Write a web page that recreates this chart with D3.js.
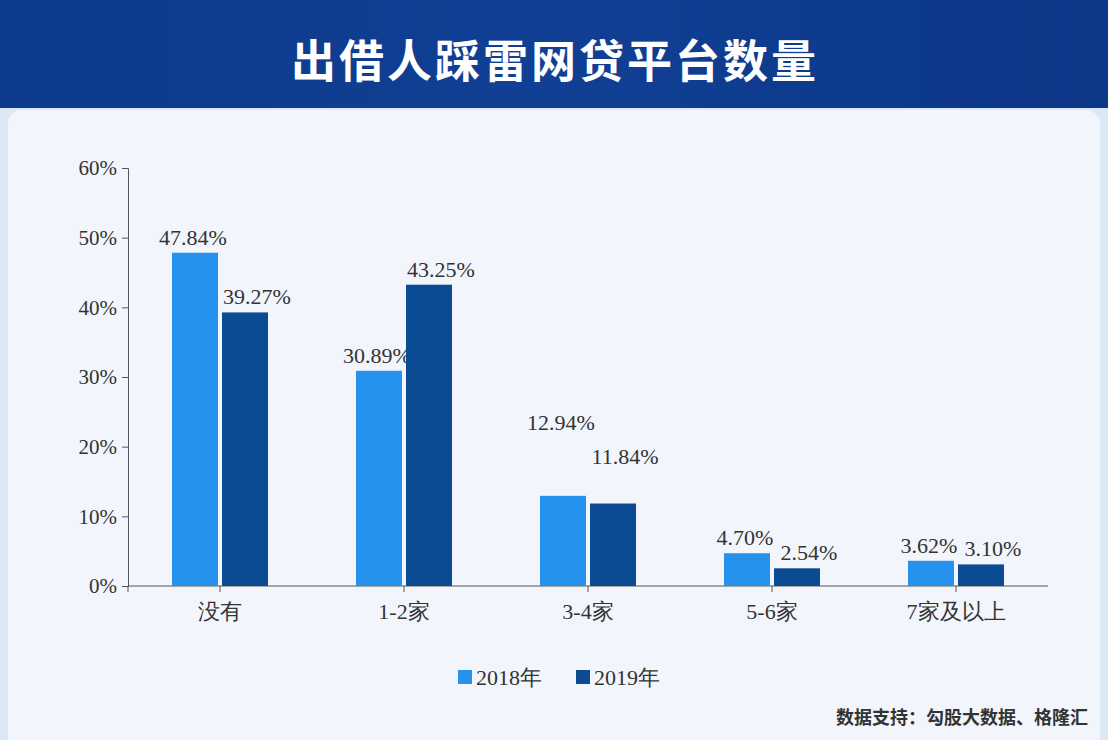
<!DOCTYPE html>
<html><head><meta charset="utf-8">
<script src="https://cdn.jsdelivr.net/npm/d3@7"></script>
<style>body{margin:0;background:#fff}svg{display:block}</style>
</head><body>
<svg id="c" width="1108" height="740"></svg>
<script>
const categories = ["没有","1-2家","3-4家","5-6家","7家及以上"];
const series2018 = [47.84,30.89,12.94,4.70,3.62];
const series2019 = [39.27,43.25,11.84,2.54,3.10];
const seriesNames = ["2018年","2019年"];
const yTicks = [0,10,20,30,40,50,60];
const colors = ["#2592ee","#0b4b93"];

const svg = d3.select("#c");
const defs = svg.append("defs");
const g1 = defs.append("linearGradient").attr("id","hdr").attr("x1",0).attr("x2",1);
g1.append("stop").attr("offset","0%").attr("stop-color","#0d3a8a");
g1.append("stop").attr("offset","50%").attr("stop-color","#103f94");
g1.append("stop").attr("offset","100%").attr("stop-color","#0c3686");
svg.append("rect").attr("width",1108).attr("height",740).attr("fill","#dde8f6");
svg.append("rect").attr("width",1108).attr("height",108).attr("fill","url(#hdr)");
svg.append("rect").attr("x",8).attr("y",110).attr("width",1092).attr("height",640).attr("rx",14).attr("fill","#f2f6fc");
svg.append("text").attr("x",555).attr("y",78).attr("text-anchor","middle")
  .attr("font-family","Noto Sans CJK SC").attr("font-weight","bold").attr("font-size",45)
  .attr("fill","#fff").attr("letter-spacing",3).text("出借人踩雷网贷平台数量");

const x = d3.scaleBand().domain(categories).range([128,1048]).paddingInner(0).paddingOuter(0);
const y = d3.scaleLinear().domain([0,60]).range([586,168]);
const xs = d3.scaleBand().domain(seriesNames).range([0,96]).paddingInner(0.08);
const ser = [series2018, series2019];
const serif = "Liberation Serif, Times New Roman, serif";

const ya = svg.append("g").attr("transform","translate(128,0)")
  .call(d3.axisLeft(y).tickValues(yTicks).tickFormat(d=>d+"%").tickSize(6));
ya.selectAll("text").attr("font-family",serif).attr("font-size",21).attr("fill","#333").attr("dx",-2);
ya.selectAll("line,path").attr("stroke","#555");
const xa = svg.append("g").attr("transform","translate(0,586)")
  .call(d3.axisBottom(x).tickSize(6).tickFormat(d=>d));
xa.select("path").remove();
xa.append("line").attr("x1",128).attr("x2",1048).attr("stroke","#555");
xa.selectAll(".tick line").attr("stroke","#555");
svg.append("line").attr("x1",128).attr("x2",128).attr("y1",586).attr("y2",592).attr("stroke","#555");
xa.selectAll("text").attr("font-family",serif).attr("font-size",22).attr("fill","#333").attr("dy",24);

categories.forEach((c,i)=>{
  const cx = x(c)+x.bandwidth()/2 - 48;
  ser.forEach((s,k)=>{
    const bx = cx + xs(seriesNames[k]);
    svg.append("rect").attr("x",bx).attr("y",y(s[i])).attr("width",xs.bandwidth())
      .attr("height",586-y(s[i])).attr("fill",colors[k]);
    const extra = (i===2) ? (k===0 ? 58 : 32) : 0;
    svg.append("text").attr("x",bx+xs.bandwidth()/2+ (k==0?-2:12)).attr("y",y(s[i])-8-extra)
      .attr("text-anchor","middle").attr("font-family",serif).attr("font-size",22).attr("fill","#333")
      .text(s[i].toFixed(2)+"%");
  });
});

const lg = [458,576];
seriesNames.forEach((n,k)=>{
  svg.append("rect").attr("x",lg[k]).attr("y",670).attr("width",14).attr("height",14).attr("fill",colors[k]);
  svg.append("text").attr("x",lg[k]+18).attr("y",685).attr("font-family",serif).attr("font-size",22)
    .attr("fill","#333").text(n);
});
svg.append("text").attr("x",1088).attr("y",724).attr("text-anchor","end")
  .attr("font-family","Noto Sans CJK SC").attr("font-weight","bold").attr("font-size",18)
  .attr("fill","#333").text("数据支持：勾股大数据、格隆汇");
</script>
</body></html>
